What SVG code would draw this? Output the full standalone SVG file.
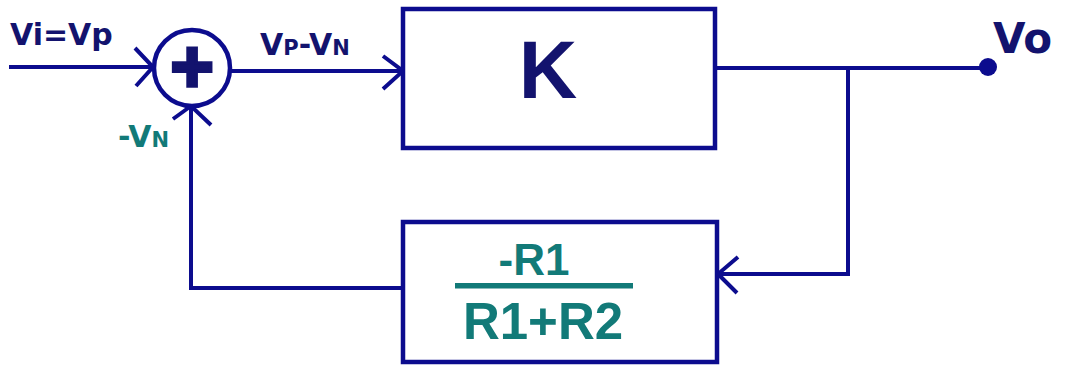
<svg xmlns="http://www.w3.org/2000/svg" width="1079" height="365" viewBox="0 0 1079 365">
<style>
.ln{fill:none;stroke:#0c0c8e;stroke-width:4;stroke-linecap:butt;stroke-linejoin:miter}
.box{fill:#fff;stroke:#0c0c8e;stroke-width:4.5}
.lbl{font-family:"DejaVu Sans",sans-serif;font-weight:bold;fill:#13136e}
.tl{font-family:"DejaVu Sans",sans-serif;font-weight:bold;fill:#127a78}
.frac{font-family:"Liberation Sans",Arial,sans-serif;font-weight:bold;fill:#127a78;text-anchor:middle}
</style>
<rect width="1079" height="365" fill="#fff"/>
<g id="connectors">
  <path class="ln" d="M9 67 H153"/>
  <path class="ln" d="M135 48 L153 67 L136 86"/>
  <path class="ln" d="M230 71 H403"/>
  <path class="ln" d="M383 56 L403 71 L383 89"/>
  <path class="ln" d="M715 68 H988"/>
  <path class="ln" d="M848 68 V274 H717"/>
  <path class="ln" d="M738 257 L718 274 L737 293"/>
  <path class="ln" d="M403 288 H191 V106"/>
  <path class="ln" d="M173 119 L191 106 L211 125"/>
</g>
<g id="sum">
  <circle cx="192" cy="68" r="38" fill="#fff" stroke="#0c0c8e" stroke-width="4.5"/>
  <text x="192" y="92" font-family="Liberation Sans,Arial,sans-serif" font-weight="bold" font-size="74" text-anchor="middle" fill="#13136e" stroke="#13136e" stroke-width="3.5">+</text>
</g>
<g id="K">
  <rect class="box" x="403" y="9" width="312" height="139"/>
  <text x="548" y="98" font-family="Liberation Sans,Arial,sans-serif" font-weight="bold" font-size="81" text-anchor="middle" fill="#13136e">K</text>
</g>
<g id="feedback">
  <rect class="box" x="403" y="222" width="314" height="140"/>
  <text class="frac" x="534" y="275" font-size="44">-R1</text>
  <rect x="455" y="283" width="178" height="5.5" fill="#127a78"/>
  <text class="frac" x="543" y="339" font-size="51">R1+R2</text>
</g>
<g id="vo">
  <circle cx="988" cy="67" r="9" fill="#0c0c8e"/>
  <text class="lbl" x="993" y="53" font-size="42">Vo</text>
</g>
<g id="labels">
  <text class="lbl" x="10" y="45" font-size="30">Vi=Vp</text>
  <text class="lbl" x="260" y="55" font-size="30">V<tspan font-size="21">P</tspan>-V<tspan font-size="21">N</tspan></text>
  <text class="tl" x="118" y="147" font-size="30">-V<tspan font-size="21">N</tspan></text>
</g>
</svg>
